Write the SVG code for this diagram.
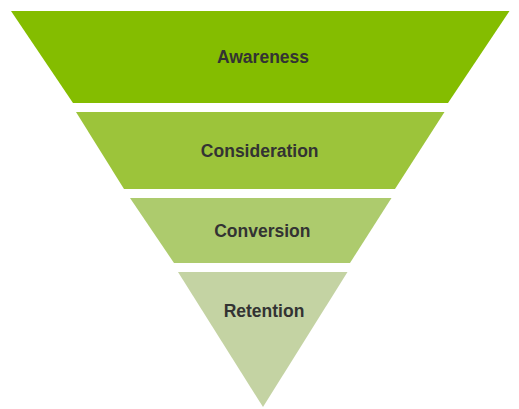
<svg xmlns="http://www.w3.org/2000/svg" width="519" height="409" viewBox="0 0 519 409">
<style>
  .lbl { font-family: "Liberation Sans", Arial, sans-serif; font-weight: bold; font-size: 17.5px; fill: #333333; text-anchor: middle; }
</style>
<rect width="519" height="409" fill="#ffffff"/>
<g id="awareness">
  <polygon points="11,11 509.5,11 448,103 73,103" fill="#84bd00"/>
  <text class="lbl" x="263" y="63.3">Awareness</text>
</g>
<g id="consideration">
  <polygon points="76,112 444.5,112 395,189 124,189" fill="#9cc43a"/>
  <text class="lbl" x="259.7" y="156.7">Consideration</text>
</g>
<g id="conversion">
  <polygon points="130,198 391.5,198 350,263 174,263" fill="#adcb6d"/>
  <text class="lbl" x="262.3" y="236.7">Conversion</text>
</g>
<g id="retention">
  <polygon points="178,272 347.5,272 263,407" fill="#c4d3a3"/>
  <text class="lbl" x="264" y="317.3">Retention</text>
</g>
<g id="connectors"></g>
</svg>
